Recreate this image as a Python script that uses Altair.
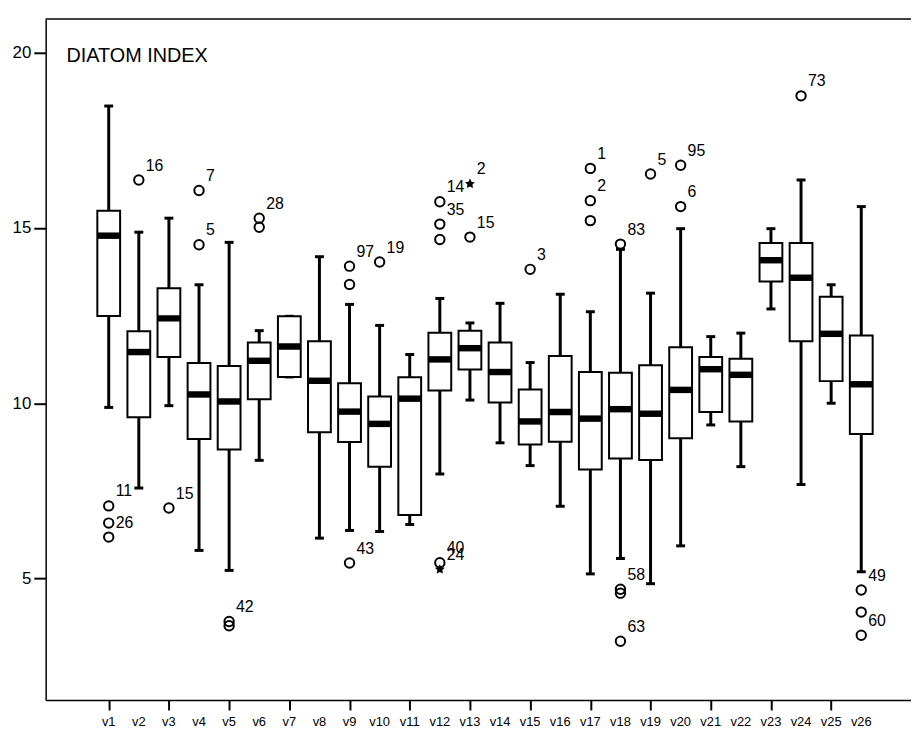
import altair as alt
import pandas as pd

# ---- data ----
categories = ["v1", "v2", "v3", "v4", "v5", "v6", "v7", "v8", "v9", "v10", "v11", "v12", "v13",
              "v14", "v15", "v16", "v17", "v18", "v19", "v20", "v21", "v22", "v23", "v24", "v25", "v26"]
whisker_low = [9.88, 7.58, 9.93, 5.80, 5.23, 8.37, 10.75, 6.15, 6.37, 6.34, 6.54, 7.98, 10.09,
               8.87, 8.22, 7.06, 5.13, 5.57, 4.85, 5.93, 9.38, 8.19, 12.69, 7.68, 10.00, 5.19]
q1 = [12.49, 9.60, 11.32, 8.98, 8.68, 10.11, 10.75, 9.17, 8.89, 8.19, 6.81, 10.36, 10.96,
      10.02, 8.82, 8.90, 8.11, 8.42, 8.38, 9.00, 9.75, 9.48, 13.47, 11.77, 10.63, 9.12]
median = [14.78, 11.46, 12.42, 10.25, 10.05, 11.21, 11.62, 10.64, 9.76, 9.41, 10.13, 11.25, 11.57,
          10.89, 9.48, 9.75, 9.56, 9.83, 9.70, 10.38, 10.97, 10.81, 14.08, 13.58, 11.98, 10.54]
q3 = [15.49, 12.05, 13.28, 11.15, 11.06, 11.73, 12.48, 11.77, 10.57, 10.19, 10.74, 12.01, 12.07,
      11.73, 10.39, 11.35, 10.89, 10.87, 11.08, 11.60, 11.32, 11.27, 14.57, 14.57, 13.04, 11.93]
whisker_high = [18.48, 14.88, 15.28, 13.38, 14.59, 12.07, 12.48, 14.18, 12.82, 12.22, 11.39, 12.99, 12.29,
                12.85, 11.16, 13.11, 12.61, 14.39, 13.14, 14.98, 11.90, 12.00, 14.98, 16.37, 13.38, 15.61]

out_var = ["v1", "v1", "v1", "v2", "v3", "v4", "v4", "v5", "v5", "v6", "v6",
           "v9", "v9", "v9", "v10", "v12", "v12", "v12", "v12", "v12", "v13", "v13",
           "v15", "v17", "v17", "v17", "v18", "v18", "v18", "v18", "v19", "v20", "v20",
           "v24", "v26", "v26", "v26"]
out_value = [7.07, 6.58, 6.18, 16.37, 7.01, 16.07, 14.52, 3.77, 3.65, 15.28, 15.02,
             13.91, 13.39, 5.44, 14.03, 15.75, 15.11, 14.67, 5.45, 5.26, 16.26, 14.74,
             13.82, 16.70, 15.78, 15.21, 14.54, 4.69, 4.58, 3.21, 16.54, 16.79, 15.61,
             18.77, 4.67, 4.04, 3.38]
out_label = ["11", "", "26", "16", "15", "7", "5", "42", "", "28", "",
             "97", "", "43", "19", "14", "35", "", "40", "24", "2", "15",
             "3", "1", "2", "", "83", "58", "", "63", "5", "95", "6",
             "73", "49", "", "60"]
out_kind = ["o", "o", "o", "o", "o", "o", "o", "o", "o", "o", "o",
            "o", "o", "o", "o", "o", "o", "o", "o", "e", "e", "o",
            "o", "o", "o", "o", "o", "o", "o", "o", "o", "o", "o",
            "o", "o", "o", "o"]

chart_title = ["DIATOM INDEX"]
y_ticks = [5, 10, 15, 20]

# ---- tables ----
idx = {c: i + 1 for i, c in enumerate(categories)}
boxes = pd.DataFrame({"var": categories, "idx": [idx[c] for c in categories],
                      "lo": whisker_low, "q1": q1, "med": median, "q3": q3, "hi": whisker_high})
outs = pd.DataFrame({"var": out_var, "idx": [idx[c] for c in out_var], "value": out_value,
                     "label": out_label, "kind": out_kind})
circles = outs[outs["kind"] == "o"]
extremes = outs[outs["kind"] == "e"]
labels = outs[outs["label"] != ""]

W, H = 873, 687
FONT = "Liberation Sans"

xscale = alt.Scale(domain=[-0.93, -0.93 + W / 30.72], nice=False, zero=False)
yscale = alt.Scale(domain=[1.53, 20.96], nice=False, zero=False)
xaxis = alt.Axis(values=list(range(1, 27)), labels=False, title=None, grid=False,
                 tickSize=10, tickWidth=2, tickColor="black", domainColor="black", domainWidth=1.5)
yaxis = alt.Axis(values=y_ticks, title=None, grid=False, tickSize=12, tickWidth=2, tickColor="black",
                 domainColor="black", domainWidth=1.5, labelFontSize=17, labelColor="black",
                 labelPadding=3, labelFont=FONT, labelOverlap=False)

whisk = alt.Chart(boxes).mark_rule(color="black", strokeWidth=3).encode(
    x=alt.X("idx:Q", scale=xscale, axis=xaxis),
    y=alt.Y("lo:Q", scale=yscale, axis=yaxis), y2="hi:Q")
cap_lo = alt.Chart(boxes).mark_tick(color="black", orient="horizontal", size=9, thickness=3,
                                    opacity=1).encode(x="idx:Q", y="lo:Q")
cap_hi = alt.Chart(boxes).mark_tick(color="black", orient="horizontal", size=9, thickness=3,
                                    opacity=1).encode(x="idx:Q", y="hi:Q")
box = alt.Chart(boxes).mark_bar(size=23, fill="white", stroke="black", strokeWidth=2,
                                opacity=1).encode(x="idx:Q", y="q1:Q", y2="q3:Q")
med = alt.Chart(boxes).mark_tick(color="black", orient="horizontal", size=23, thickness=6.5,
                                 opacity=1).encode(x="idx:Q", y="med:Q")
pts = alt.Chart(circles).mark_point(shape="circle", filled=False, stroke="black", strokeWidth=2,
                                    size=90, opacity=1).encode(x="idx:Q", y="value:Q")
star_path = ("M0,-1L0.29,-0.4L0.95,-0.31L0.48,0.15L0.59,0.81L0,0.5L-0.59,0.81"
             "L-0.48,0.15L-0.95,-0.31L-0.29,-0.4Z")
ext = alt.Chart(extremes).mark_point(shape=star_path, filled=True, color="black", size=110,
                                     opacity=1).encode(x="idx:Q", y="value:Q")
txt = alt.Chart(labels).mark_text(align="left", baseline="alphabetic", dx=7, dy=-9.5,
                                  fontSize=16, font=FONT, color="black").encode(
    x="idx:Q", y="value:Q", text="label:N")
# category labels under the x ticks, placed through the x scale
xlab = alt.Chart(boxes).mark_text(align="center", baseline="alphabetic", fontSize=13, font=FONT,
                                  color="black").encode(
    x="idx:Q", y=alt.value(H + 26), text="var:N")
title = alt.Chart(pd.DataFrame({"t": chart_title})).mark_text(
    align="left", baseline="alphabetic", fontSize=20, font=FONT, color="black").encode(
    x=alt.value(21), y=alt.value(43.5), text="t:N")
top = alt.Chart(pd.DataFrame({"a": [0]})).mark_rule(color="black", strokeWidth=1.5).encode(
    x=alt.value(0), x2=alt.value(W), y=alt.value(0))

chart = alt.layer(whisk, cap_lo, cap_hi, box, med, pts, ext, txt, xlab, title, top).properties(
    width=W, height=H,
    autosize=alt.AutoSizeParams(type="none"),
    padding={"left": 38, "top": 8, "right": 0, "bottom": 26},
).configure_view(strokeWidth=0, clip=False)

chart.save("out.html", embed_options={"renderer": "svg", "actions": False})
